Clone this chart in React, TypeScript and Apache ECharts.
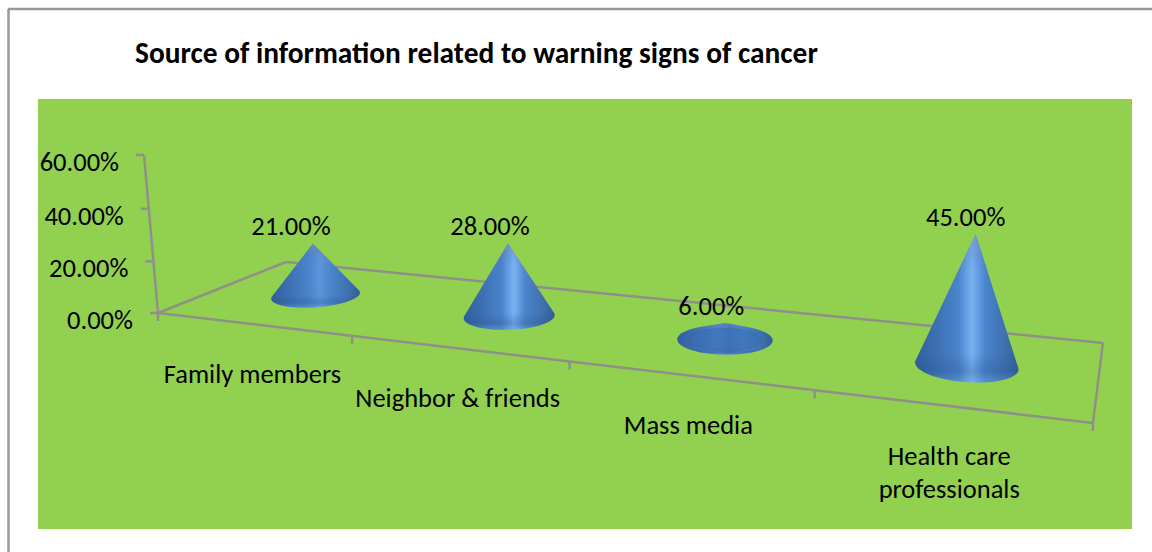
import React, { useEffect, useRef } from "react";
import * as echarts from "echarts";

const titleText = "Source of information related to warning signs of cancer";
const categories = ["Family members", "Neighbor & friends", "Mass media", "Health care\nprofessionals"];
const shares = [21, 28, 6, 45];
const yTicks = [0, 20, 40, 60];

const FONT = "Carlito, Lato, 'Noto Sans', sans-serif";
const AXIS = "#8f9188";
const RU = 0.05;
const RV = 0.21;

// Perspective camera of the 3-D plot: floor (u, v) and height w, each 0..1.
const project = (u: number, v: number, w: number): [number, number] => {
  const d = 1 - 0.2136 * u + 0.147 * v - 0.03 * w;
  return [
    (701.5 * u + 170 * v - 18.3 * w + 158) / d,
    (19.6 * u - 12.5 * v - 162.65 * w + 313) / d,
  ];
};

const toUnit = (api: any, params: any, cat: number, val: number) => {
  const g = params.coordSys;
  const [cx, cy] = api.coord([cat, val]);
  return { u: (cx - g.x) / g.width, w: (g.y + g.height - cy) / g.height };
};

const hull = (pts: [number, number][]) => {
  const s = [...pts].sort((a, b) => a[0] - b[0] || a[1] - b[1]);
  const cross = (o: number[], a: number[], b: number[]) =>
    (a[0] - o[0]) * (b[1] - o[1]) - (a[1] - o[1]) * (b[0] - o[0]);
  const lo: [number, number][] = [];
  for (const p of s) {
    while (lo.length >= 2 && cross(lo[lo.length - 2], lo[lo.length - 1], p) <= 0) lo.pop();
    lo.push(p);
  }
  const up: [number, number][] = [];
  for (const p of [...s].reverse()) {
    while (up.length >= 2 && cross(up[up.length - 2], up[up.length - 1], p) <= 0) up.pop();
    up.push(p);
  }
  return lo.slice(0, -1).concat(up.slice(0, -1));
};

const ellipse = (u: number, scale: number) => {
  const pts: [number, number][] = [];
  for (let t = 0; t < 72; t++) {
    const a = (t / 72) * Math.PI * 2;
    pts.push(project(u + RU * scale * Math.cos(a), 0.5 + RV * scale * Math.sin(a), 0));
  }
  return pts;
};

const mix = (a: number[], b: number[], t: number) =>
  `rgb(${a.map((c, i) => Math.round(c + (b[i] - c) * t)).join(",")})`;

const coneFill = (shine: number) => {
  const mid = [66, 120, 190];
  return new echarts.graphic.LinearGradient(0, 0, 1, 0, [
    { offset: 0, color: "#315f9c" },
    { offset: 0.2, color: "#3d70b2" },
    { offset: 0.42, color: "#4a84cc" },
    { offset: 0.55, color: mix(mid, [122, 178, 244], shine) },
    { offset: 0.68, color: "#4a84cc" },
    { offset: 0.88, color: "#3e70ad" },
    { offset: 1, color: "#315f94" },
  ]);
};

const coneShade = () =>
  new echarts.graphic.LinearGradient(0, 0, 0, 1, [
    { offset: 0, color: "rgba(130,140,165,0.45)" },
    { offset: 0.25, color: "rgba(70,110,170,0)" },
    { offset: 0.8, color: "rgba(40,80,140,0)" },
    { offset: 0.92, color: "rgba(40,80,140,0.28)" },
    { offset: 1, color: "rgba(110,170,225,0.35)" },
  ]);

const line = (a: number[], b: number[]) => ({
  type: "line",
  shape: { x1: a[0], y1: a[1], x2: b[0], y2: b[1] },
  style: { stroke: AXIS, lineWidth: 2.5 },
});

const textStyle = (text: string, x: number, y: number, align: string, verticalAlign = "middle") => ({
  type: "text",
  style: { text, x, y, align, verticalAlign, fill: "#000", fontSize: 26.5, lineHeight: 33, fontFamily: FONT },
});

const renderFloor = (_p: any, _api: any) => {
  const c = [project(0, 0, 0), project(1, 0, 0), project(1, 1, 0), project(0, 1, 0)];
  const wall = project(0, 0, 1);
  return {
    type: "group",
    children: [
      line(c[0], c[1]),
      line(c[1], c[2]),
      line(c[2], c[3]),
      line(c[3], c[0]),
      line(c[0], wall),
    ],
  };
};

const renderYTick = (params: any, api: any) => {
  const v = api.value(1) as number;
  const { w } = toUnit(api, params, 0, v);
  const p = project(0, 0, w);
  return {
    type: "group",
    children: [
      line(p, [p[0] - 8, p[1]]),
      textStyle(`${v.toFixed(2)}%`, p[0] - 25, p[1] + 7, "right"),
    ],
  };
};

const renderCategory = (params: any, api: any) => {
  const i = api.value(0) as number;
  const { u } = toUnit(api, params, i, 0);
  const halfBand = u / (2 * i + 1);
  const left = project(u - halfBand, 0, 0);
  const right = project(u + halfBand, 0, 0);
  const mid = project(u, 0, 0);
  const children: any[] = [
    line(left, [left[0], left[1] + 8]),
    textStyle(categories[i], mid[0], mid[1] + 33, "center", "top"),
  ];
  if (i === categories.length - 1) children.push(line(right, [right[0], right[1] + 8]));
  return { type: "group", children };
};

const renderCone = (params: any, api: any) => {
  const i = api.value(0) as number;
  const v = api.value(1) as number;
  const { u, w } = toUnit(api, params, i, v);
  const apex = project(u, 0.5, w);
  const base = ellipse(u, 1);
  const outline = hull([...base, apex]);
  const shine = Math.max(0, Math.min(1, (w - 0.25) / 0.2));
  const children: any[] = [
    { type: "polygon", shape: { points: outline }, style: { fill: coneFill(shine) } },
    { type: "polygon", shape: { points: outline }, style: { fill: coneShade() } },
  ];
  if (shine === 0) {
    children.push({
      type: "polygon",
      shape: { points: ellipse(u, 0.75) },
      style: { fill: "rgba(58,110,178,0.55)", stroke: "rgba(50,95,155,0.3)", lineWidth: 1 },
    });
  }
  children.push(textStyle(`${v.toFixed(2)}%`, apex[0] - 24 + 16 * u, apex[1] - 17, "center"));
  return { type: "group", children };
};

const App = () => {
  const ref = useRef<HTMLDivElement>(null);
  useEffect(() => {
    const chart = echarts.init(ref.current!, null, { renderer: "svg" });
    chart.setOption({
      animation: false,
      backgroundColor: "#fff",
      title: {
        text: titleText,
        left: 130,
        top: 33,
        textStyle: { fontFamily: FONT, fontSize: 29.4, fontWeight: "bold", color: "#000" },
      },
      graphic: [
        { type: "rect", z: -10, shape: { x: 38, y: 99, width: 1094, height: 430 }, style: { fill: "#92d050" } },
        { type: "line", z: -10, shape: { x1: 8, y1: 9, x2: 1152, y2: 9 }, style: { stroke: "#999", lineWidth: 2.5 } },
        { type: "line", z: -10, shape: { x1: 8.5, y1: 9, x2: 8.5, y2: 552 }, style: { stroke: "#999", lineWidth: 2.5 } },
      ],
      grid: { left: 100, top: 100, width: 900, height: 400 },
      xAxis: { type: "category", data: categories, show: false },
      yAxis: { type: "value", min: 0, max: 60, interval: 20, show: false },
      series: [
        { type: "custom", renderItem: renderFloor, data: [[0, 0]], silent: true, z: 1 },
        { type: "custom", renderItem: renderYTick, data: yTicks.map((t) => [0, t]), silent: true, z: 2 },
        { type: "custom", renderItem: renderCategory, data: categories.map((_, i) => [i, 0]), silent: true, z: 2 },
        { type: "custom", renderItem: renderCone, data: shares.map((s, i) => [i, s]), silent: true, z: 3 },
      ],
    });
    return () => chart.dispose();
  }, []);
  return <div ref={ref} style={{ position: "absolute", left: 0, top: 0, width: 1152, height: 552 }} />;
};

export default App;
